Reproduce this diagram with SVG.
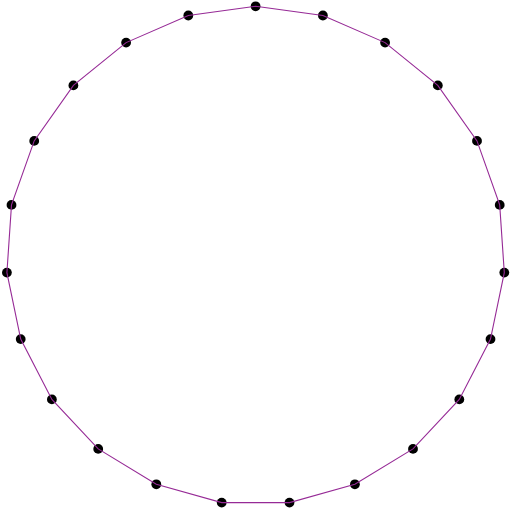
<svg xmlns="http://www.w3.org/2000/svg" width="510" height="509" viewBox="0 0 510 509">
<style>
.n{fill:#000;}
.e{fill:none;stroke:#962a96;stroke-width:1.1;}
</style>
<rect width="510" height="509" fill="#fff"/>
<g id="nodes">
<g id="n0"><circle class="n" cx="255.6" cy="6.3" r="4.9"/></g>
<g id="n1"><circle class="n" cx="322.9" cy="15.5" r="4.9"/></g>
<g id="n2"><circle class="n" cx="385.1" cy="42.6" r="4.9"/></g>
<g id="n3"><circle class="n" cx="437.8" cy="85.4" r="4.9"/></g>
<g id="n4"><circle class="n" cx="477.0" cy="140.9" r="4.9"/></g>
<g id="n5"><circle class="n" cx="499.7" cy="204.9" r="4.9"/></g>
<g id="n6"><circle class="n" cx="504.3" cy="272.6" r="4.9"/></g>
<g id="n7"><circle class="n" cx="490.5" cy="339.1" r="4.9"/></g>
<g id="n8"><circle class="n" cx="459.3" cy="399.4" r="4.9"/></g>
<g id="n9"><circle class="n" cx="413.0" cy="448.9" r="4.9"/></g>
<g id="n10"><circle class="n" cx="354.9" cy="484.3" r="4.9"/></g>
<g id="n11"><circle class="n" cx="289.5" cy="502.6" r="4.9"/></g>
<g id="n12"><circle class="n" cx="221.7" cy="502.6" r="4.9"/></g>
<g id="n13"><circle class="n" cx="156.3" cy="484.3" r="4.9"/></g>
<g id="n14"><circle class="n" cx="98.2" cy="448.9" r="4.9"/></g>
<g id="n15"><circle class="n" cx="51.9" cy="399.4" r="4.9"/></g>
<g id="n16"><circle class="n" cx="20.7" cy="339.1" r="4.9"/></g>
<g id="n17"><circle class="n" cx="6.9" cy="272.6" r="4.9"/></g>
<g id="n18"><circle class="n" cx="11.5" cy="204.9" r="4.9"/></g>
<g id="n19"><circle class="n" cx="34.2" cy="140.9" r="4.9"/></g>
<g id="n20"><circle class="n" cx="73.4" cy="85.4" r="4.9"/></g>
<g id="n21"><circle class="n" cx="126.1" cy="42.6" r="4.9"/></g>
<g id="n22"><circle class="n" cx="188.3" cy="15.5" r="4.9"/></g>
</g>
<g id="edges">
<polygon class="e" points="255.6,6.3 322.9,15.5 385.1,42.6 437.8,85.4 477.0,140.9 499.7,204.9 504.3,272.6 490.5,339.1 459.3,399.4 413.0,448.9 354.9,484.3 289.5,502.6 221.7,502.6 156.3,484.3 98.2,448.9 51.9,399.4 20.7,339.1 6.9,272.6 11.5,204.9 34.2,140.9 73.4,85.4 126.1,42.6 188.3,15.5"/>
</g>
</svg>
